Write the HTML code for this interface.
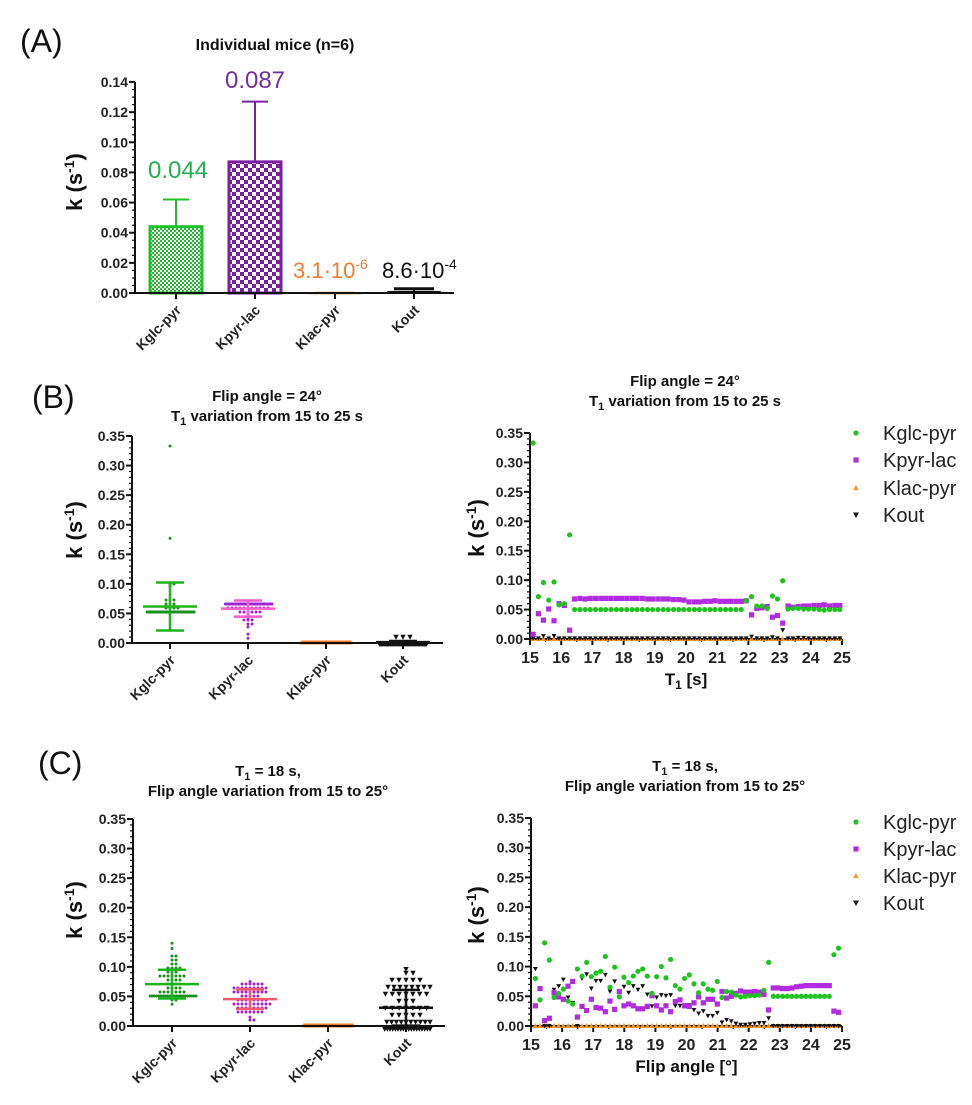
<!DOCTYPE html>
<html><head><meta charset="utf-8"><style>
html,body{margin:0;padding:0;background:#fff;}
svg{display:block;font-family:"Liberation Sans",Arial,sans-serif;}
</style></head><body>
<svg id="fig" width="972" height="1105" viewBox="0 0 972 1105" xmlns="http://www.w3.org/2000/svg">
<defs>
<pattern id="chkG" width="4" height="4" patternUnits="userSpaceOnUse"><rect width="4" height="4" fill="#fff"/><rect width="2" height="2" fill="#1fbf2a"/><rect x="2" y="2" width="2" height="2" fill="#1fbf2a"/></pattern>
<pattern id="chkP" width="8" height="8" patternUnits="userSpaceOnUse"><rect width="8" height="8" fill="#fff"/><rect width="4" height="4" fill="#7a1fa2"/><rect x="4" y="4" width="4" height="4" fill="#7a1fa2"/></pattern>
</defs>
</svg>
<script>
// ---------- data ----------
const categories = ["Kglc-pyr","Kpyr-lac","Klac-pyr","Kout"];
const barValues = [0.044,0.087,0.0000031,0.00086];
const barErrUpper = [0.062,0.127,0.0002,0.0028];
const aTicks = [0,0.02,0.04,0.06,0.08,0.10,0.12,0.14];
const aTickLabels = ["0.00","0.02","0.04","0.06","0.08","0.10","0.12","0.14"];
const kTicks = [0,0.05,0.10,0.15,0.20,0.25,0.30,0.35];
const kTickLabels = ["0.00","0.05","0.10","0.15","0.20","0.25","0.30","0.35"];
const xTicks = [15,16,17,18,19,20,21,22,23,24,25];

const T_B = [15.1,15.27,15.43,15.6,15.77,15.93,16.1,16.27,16.43,16.6,16.77,16.93,17.1,17.27,17.43,17.6,17.77,17.93,18.1,18.27,18.43,18.6,18.77,18.93,19.1,19.27,19.43,19.6,19.77,19.93,20.1,20.27,20.43,20.6,20.77,20.93,21.1,21.27,21.43,21.6,21.77,21.93,22.1,22.27,22.43,22.6,22.77,22.93,23.1,23.27,23.43,23.6,23.77,23.93,24.1,24.27,24.43,24.6,24.77,24.93];
const glcB = [0.333,0.072,0.096,0.066,0.097,0.058,0.060,0.177,
0.050,0.050,0.050,0.050,0.050,0.050,0.050,0.050,0.050,0.050,0.050,0.050,0.050,0.050,0.050,0.050,0.050,0.050,0.050,0.050,0.050,0.050,0.050,0.050,0.050,0.050,0.050,0.050,0.050,0.050,0.050,0.050,0.050,
0.065,0.072,0.056,0.056,0.052,0.073,0.068,0.099,
0.051,0.052,0.052,0.051,0.051,0.051,0.050,0.049,0.050,0.050,0.050];
const pyrB = [0.008,0.043,0.032,0.051,0.031,0.060,0.057,0.015,
0.068,0.069,0.068,0.069,0.069,0.069,0.069,0.069,0.069,0.069,0.069,0.069,0.069,0.069,0.068,0.068,0.068,0.068,0.068,0.067,0.067,0.066,
0.063,0.063,0.063,0.064,0.064,0.065,0.064,0.064,0.064,0.064,0.064,0.065,
0.041,0.052,0.053,0.055,0.037,0.040,0.027,
0.056,0.054,0.055,0.056,0.056,0.057,0.057,0.058,0.056,0.057,0.057];
const lacB = [0,0,0,0,0,0,0,0,0,0,0,0,0,0,0,0,0,0,0,0,0,0,0,0,0,0,0,0,0,0,0,0,0,0,0,0,0,0,0,0,0,0,0,0,0,0,0,0,0,0,0,0,0,0,0,0,0,0,0,0];
const koutB = [0.001,0.001,0.005,0.001,0.005,0.001,0.001,0.001,0.001,0.001,0.001,0.001,0.001,0.001,0.001,0.001,0.001,0.001,0.001,0.001,0.001,0.001,0.001,0.001,0.001,0.001,0.001,0.001,0.001,0.001,0.001,0.001,0.001,0.001,0.001,0.001,0.001,0.001,0.001,0.001,0.001,0.001,0.004,0.001,0.001,0.001,0.003,0.001,0.015,0.001,0.001,0.002,0.002,0.001,0.001,0.001,0.001,0.001,0.001,0.001];

const T_C = [15.14,15.29,15.44,15.59,15.74,15.89,16.04,16.19,16.34,16.49,16.64,16.79,16.94,17.09,17.24,17.39,17.54,17.69,17.84,17.99,18.14,18.29,18.44,18.59,18.74,18.89,19.04,19.19,19.34,19.49,19.64,19.79,19.94,20.09,20.24,20.39,20.54,20.69,20.84,20.99,21.14,21.29,21.44,21.59,21.74,21.89,22.04,22.19,22.34,22.49,22.64,22.79,22.94,23.09,23.24,23.39,23.54,23.69,23.84,23.99,24.14,24.29,24.44,24.59,24.74,24.89];
const glcC = [0.080,0.044,0.140,0.111,0.048,0.055,0.062,0.042,0.037,0.096,0.084,0.107,0.083,0.089,0.092,0.117,0.065,0.099,0.049,0.082,0.073,0.084,0.092,0.096,0.084,0.055,0.083,0.100,0.081,0.112,0.068,0.062,0.080,0.086,0.071,0.056,0.071,0.062,0.060,0.075,
0.048,0.058,0.057,0.052,0.049,0.050,0.051,0.051,0.052,0.060,0.107,
0.050,0.050,0.050,0.050,0.050,0.050,0.050,0.050,0.050,0.050,0.050,0.050,0.050,0.120,0.131];
const pyrC = [0.034,0.063,0.009,0.013,0.056,0.049,0.045,0.067,0.075,0.015,0.033,0.026,0.045,0.031,0.030,0.024,0.042,0.028,0.058,0.034,0.037,0.034,0.029,0.029,0.033,0.051,0.034,0.027,0.034,0.024,0.041,0.044,0.034,0.033,0.039,0.049,0.039,0.045,0.045,0.037,
0.058,0.047,0.050,0.055,0.059,0.057,0.057,0.058,0.057,0.053,0.027,
0.064,0.064,0.063,0.063,0.064,0.066,0.067,0.068,0.068,0.068,0.068,0.068,0.068,0.025,0.023];
const lacC = [0,0,0,0,0,0,0,0,0,0,0,0,0,0,0,0,0,0,0,0,0,0,0,0,0,0,0,0,0,0,0,0,0,0,0,0,0,0,0,0,0,0,0,0,0,0,0,0,0,0,0,0,0,0,0,0,0,0,0,0,0,0,0,0,0,0];
const koutC = [0.096,0.062,0.000,0.000,0.061,0.067,0.078,0.048,0.039,0.000,0.080,0.087,0.063,0.076,0.076,0.086,0.058,0.075,0.049,0.066,0.056,0.067,0.061,0.067,0.053,0.033,0.048,0.052,0.051,0.052,0.034,0.034,0.035,0.035,0.027,0.021,0.025,0.017,0.017,0.022,
0.006,0.010,0.008,0.004,0.002,0.002,0.003,0.004,0.005,0.005,0.013,
0,0,0,0,0,0,0,0,0,0,0,0,0,0,0];

// ---------- helpers ----------
const svg = document.getElementById('fig');
const NS = 'http://www.w3.org/2000/svg';
function mk(tag, attrs, parent){
  const e = document.createElementNS(NS, tag);
  for (const k in attrs) e.setAttribute(k, attrs[k]);
  (parent || svg).appendChild(e);
  return e;
}
function txt(x, y, s, attrs, parent){
  const e = mk('text', Object.assign({x:x, y:y}, attrs), parent);
  e.textContent = s;
  return e;
}
function grp(parent){ return mk('g', {}, parent); }

function yScale(y0, ytop, max){ return v => y0 - v / max * (y0 - ytop); }
function xScale(x0, x1, a, b){ return v => x0 + (v - a) / (b - a) * (x1 - x0); }

function yAxis(g, ax, y0, ytop, max, ticks, labels, minorStep){
  const ys = yScale(y0, ytop, max);
  const l = mk('line', {x1:ax, y1:y0, x2:ax, y2:ytop, stroke:'#111', 'stroke-width':2}, g);
  
  
  for (let v = 0; v <= max + 1e-9; v += minorStep){
    mk('line', {x1:ax-3, y1:ys(v), x2:ax, y2:ys(v), stroke:'#111', 'stroke-width':1.2}, g);
  }
  ticks.forEach((v, i) => {
    mk('line', {x1:ax-6, y1:ys(v), x2:ax, y2:ys(v), stroke:'#111', 'stroke-width':2}, g);
    const t = txt(ax-7, ys(v)+5, labels[i], {'text-anchor':'end', 'font-size':14, 'font-weight':'bold', fill:'#222'}, g);
    
    
  });
  return ys;
}
function kLabel(g, x, y){
  const t = mk('text', {transform:`translate(${x},${y}) rotate(-90)`, 'text-anchor':'middle', 'font-size':22, 'font-weight':'bold', fill:'#111'}, g);
  
  
  const a = mk('tspan', {}, t); a.textContent = 'k (s';
  const b = mk('tspan', {dy:-8, 'font-size':14}, t); b.textContent = '-1';
  const c = mk('tspan', {dy:8}, t); c.textContent = ')';
}
function catAxis(g, ax, xend, y0, cx){
  const l = mk('line', {x1:ax, y1:y0, x2:xend, y2:y0, stroke:'#111', 'stroke-width':2}, g);
  
  
  categories.forEach((c, i) => {
    mk('line', {x1:cx[i], y1:y0, x2:cx[i], y2:y0+6, stroke:'#111', 'stroke-width':2}, g);
    const t = txt(0, 0, c, {transform:`translate(${cx[i]+6},${y0+18}) rotate(-45)`, 'text-anchor':'end', 'font-size':14, 'font-weight':'bold', fill:'#222'}, g);
    
    
  });
}
function title2(g, cx, y1, parts1, line2parts){
  const t1 = mk('text', {x:cx, y:y1, 'text-anchor':'middle', 'font-size':15, 'font-weight':'bold', fill:'#111'}, g);
  
  
  parts1.forEach(p => { const s = mk('tspan', p[1] ? {dy:p[1], 'font-size':p[2]||15} : {}, t1); s.textContent = p[0]; });
  if (line2parts){
    const t2 = mk('text', {x:cx, y:y1+20, 'text-anchor':'middle', 'font-size':15, 'font-weight':'bold', fill:'#111'}, g);
    
    
    line2parts.forEach(p => { const s = mk('tspan', p[1] ? {dy:p[1], 'font-size':p[2]||15} : {}, t2); s.textContent = p[0]; });
  }
}
function panelLetter(x, y, s){
  const t = txt(x, y, s, {'font-size':32, fill:'#111'});
  
  
}

function marker(g, type, x, y, scale){
  const s = scale || 1;
  let e;
  if (type === 0) e = mk('circle', {cx:x, cy:y, r:2.6*s, fill:'#1ec31e'}, g);
  else if (type === 1) e = mk('rect', {x:x-2.6*s, y:y-2.6*s, width:5.2*s, height:5.2*s, fill:'#b22be0'}, g);
  else if (type === 2) e = mk('polygon', {points:`${x},${y-3*s} ${x-2.6*s},${y+2*s} ${x+2.6*s},${y+2*s}`, fill:'#f7941d'}, g);
  else e = mk('polygon', {points:`${x},${y+3*s} ${x-3*s},${y-2.5*s} ${x+3*s},${y-2.5*s}`, fill:'#111'}, g);
  return e;
}

// ---------- Panel A ----------
(function(){
  const g = grp();
  
  
  panelLetter(20, 52, '(A)');
  const t = txt(275, 50, 'Individual mice (n=6)', {'text-anchor':'middle', 'font-size':16, 'font-weight':'bold', fill:'#111'}, g);
  
  
  const ys = yAxis(g, 135, 293, 82, 0.14, aTicks, aTickLabels, 0.005);
  kLabel(g, 82, 182);
  const cx = [176, 255, 335, 414];
  const fills = ['url(#chkG)', 'url(#chkP)', '#f7941d', '#111'];
  const strokes = ['#1fbf2a', '#7a1fa2', '#f08030', '#111'];
  barValues.forEach((v, i) => {
    const top = ys(v);
    const b = mk('rect', {x:cx[i]-26, y:top, width:52, height:Math.max(293-top, 0.5), fill:fills[i], stroke:strokes[i], 'stroke-width':i<2?3:1.5}, g);
    
    
    const eu = ys(barErrUpper[i]);
    const capW = i < 2 ? 13 : 20;
    mk('line', {x1:cx[i], y1:top, x2:cx[i], y2:eu, stroke:strokes[i], 'stroke-width':2}, g);
    const cap = mk('line', {x1:cx[i]-capW, y1:eu, x2:cx[i]+capW, y2:eu, stroke:strokes[i], 'stroke-width':i===3?3:2}, g);
    
    
  });
  catAxis(g, 130, 454, 293, cx);
  const l1 = txt(178, 178, '0.044', {'text-anchor':'middle', 'font-size':24, fill:'#22b04f'}, g);
  
  
  const l2 = txt(255, 88, '0.087', {'text-anchor':'middle', 'font-size':24, fill:'#7030a0'}, g);
  
  
  const l3 = mk('text', {x:293, y:278, 'font-size':22, fill:'#ed7d31'}, g);
  
  
  let s = mk('tspan', {}, l3); s.textContent = '3.1·10';
  s = mk('tspan', {dy:-9, 'font-size':14}, l3); s.textContent = '-6';
  const l4 = mk('text', {x:382, y:278, 'font-size':22, fill:'#111'}, g);
  
  
  s = mk('tspan', {}, l4); s.textContent = '8.6·10';
  s = mk('tspan', {dy:-9, 'font-size':14}, l4); s.textContent = '-4';
})();

// ---------- scatter (beeswarm) panel ----------
function swarmPanel(name, ax, y0, ytop, xend, cx, series, meanColors, dotColors){
  const g = grp();
  
  
  const ys = yAxis(g, ax, y0, ytop, 0.35, kTicks, kTickLabels, 0.01);
  const lines = [];
  series.forEach((vals, si) => {
    const bh = si === 3 ? 7 : 4;
    const bins = {};
    vals.forEach(v => { const b = Math.round(ys(v) / bh); (bins[b] = bins[b] || []).push(v); });
    for (const b in bins){
      const n = bins[b].length;
      const sp = Math.min(si === 3 ? 7 : 4, 48 / n);
      bins[b].forEach((v, k) => {
        const off = (k % 2 ? 1 : -1) * Math.ceil(k / 2) * sp;
        const y = n > 1 ? b * bh : ys(v);
        let d;
        if (si === 3) d = marker(g, 3, cx[si] + off, y, 0.9);
        else if (si === 2) d = mk('rect', {x:cx[si]+off-1.5, y:ys(v)-2.5, width:3, height:4, fill:'#f47a20'}, g);
        else d = mk('circle', {cx:cx[si] + off, cy:y, r:1.5, fill:dotColors[si]}, g);
        
        
      });
    }
    const n = vals.length;
    const mean = vals.reduce((a, b) => a + b, 0) / n;
    const sd = Math.sqrt(vals.reduce((a, b) => a + (b - mean) * (b - mean), 0) / (n - 1));
    lines.push([si, mean, sd]);
  });
  lines.forEach(([si, mean, sd]) => {
    const c = meanColors[si];
    const lo = Math.max(mean - sd, 0), hi = mean + sd;
    mk('line', {x1:cx[si], y1:ys(lo), x2:cx[si], y2:ys(hi), stroke:c, 'stroke-width':2.5}, g);
    const ml = mk('line', {x1:cx[si]-27, y1:ys(mean), x2:cx[si]+27, y2:ys(mean), stroke:c, 'stroke-width':2.5}, g);
    
    
    [lo, hi].forEach(v => mk('line', {x1:cx[si]-14, y1:ys(v), x2:cx[si]+14, y2:ys(v), stroke:c, 'stroke-width':2.5}, g));
  });
  catAxis(g, ax-3, xend, y0, cx);
  return g;
}

// ---------- time-series panel ----------
function linePanel(name, ax, y0, ytop, xend, xs, series, xlabelParts, legY){
  const g = grp();
  
  
  const ys = yAxis(g, ax, y0, ytop, 0.35, kTicks, kTickLabels, 0.01);
  const xsc = xScale(ax, xend, 15, 25);
  const xl = mk('line', {x1:ax, y1:y0, x2:xend, y2:y0, stroke:'#111', 'stroke-width':2}, g);
  
  
  xTicks.forEach(v => {
    mk('line', {x1:xsc(v), y1:y0, x2:xsc(v), y2:y0+6, stroke:'#111', 'stroke-width':2}, g);
    if (v < 25) mk('line', {x1:xsc(v+0.5), y1:y0, x2:xsc(v+0.5), y2:y0+3, stroke:'#111', 'stroke-width':1.2}, g);
    const t = txt(xsc(v), y0+24, String(v), {'text-anchor':'middle', 'font-size':16, 'font-weight':'bold', fill:'#222'}, g);
    
    
  });
  const order = [2, 3, 1, 0];
  order.forEach(si => {
    series[si].forEach((v, i) => {
      const m = marker(g, si, xsc(xs[i]), ys(v), si === 3 ? 0.8 : 1);
      
      
    });
  });
  const xt = mk('text', {x:(ax+xend)/2, y:y0+46, 'text-anchor':'middle', 'font-size':17, 'font-weight':'bold', fill:'#111'}, g);
  
  
  xlabelParts.forEach(p => { const s = mk('tspan', p[1] ? {dy:p[1], 'font-size':p[2]} : {}, xt); s.textContent = p[0]; });
  categories.forEach((c, i) => {
    const lg = grp(g);
    
    
    marker(lg, i, 856, legY[i], 1);
    txt(883, legY[i] + 7, c, {'font-size':20, fill:'#222'}, lg);
  });
  return g;
}

// ---------- Panel B ----------
panelLetter(32, 408, '(B)');
title2(svg, 267, 401, [['Flip angle = 24°']], [['T'], ['1', 4, 11], [' variation from 15 to 25 s', -4, 15]]);
swarmPanel('panel-b-left-scatter', 132, 643, 436, 443, [170, 248, 326, 403], [glcB, pyrB, lacB, koutB], ['#1db31d', '#ff5ccd', '#f47a20', '#111'], ['#17901c', '#a020d8', '#f47a20', '#111']);
kLabel(svg, 82, 530);
title2(svg, 685, 386, [['Flip angle = 24°']], [['T'], ['1', 4, 11], [' variation from 15 to 25 s', -4, 15]]);
linePanel('panel-b-right-scatter', 530, 639, 433, 842, T_B, [glcB, pyrB, lacB, koutB], [['T'], ['1', 4, 12], [' [s]', -4, 17]], [433, 460, 488, 515]);
kLabel(svg, 484, 528);

// ---------- Panel C ----------
panelLetter(38, 774, '(C)');
title2(svg, 268, 776, [['T'], ['1', 4, 11], [' = 18 s,', -4, 15]], [['Flip angle variation from 15 to 25°']]);
swarmPanel('panel-c-left-scatter', 133, 1026, 819, 445, [172, 250, 328, 406], [glcC, pyrC, lacC, koutC], ['#1db31d', '#f05a6a', '#f47a20', '#111'], ['#17901c', '#a020d8', '#f47a20', '#111']);
kLabel(svg, 82, 910);
title2(svg, 685, 771, [['T'], ['1', 4, 11], [' = 18 s,', -4, 15]], [['Flip angle variation from 15 to 25°']]);
linePanel('panel-c-right-scatter', 531, 1026, 818, 842, T_C, [glcC, pyrC, lacC, koutC], [['Flip angle [°]']], [822, 849, 876, 903]);
kLabel(svg, 484, 915);
</script>
</body></html>
